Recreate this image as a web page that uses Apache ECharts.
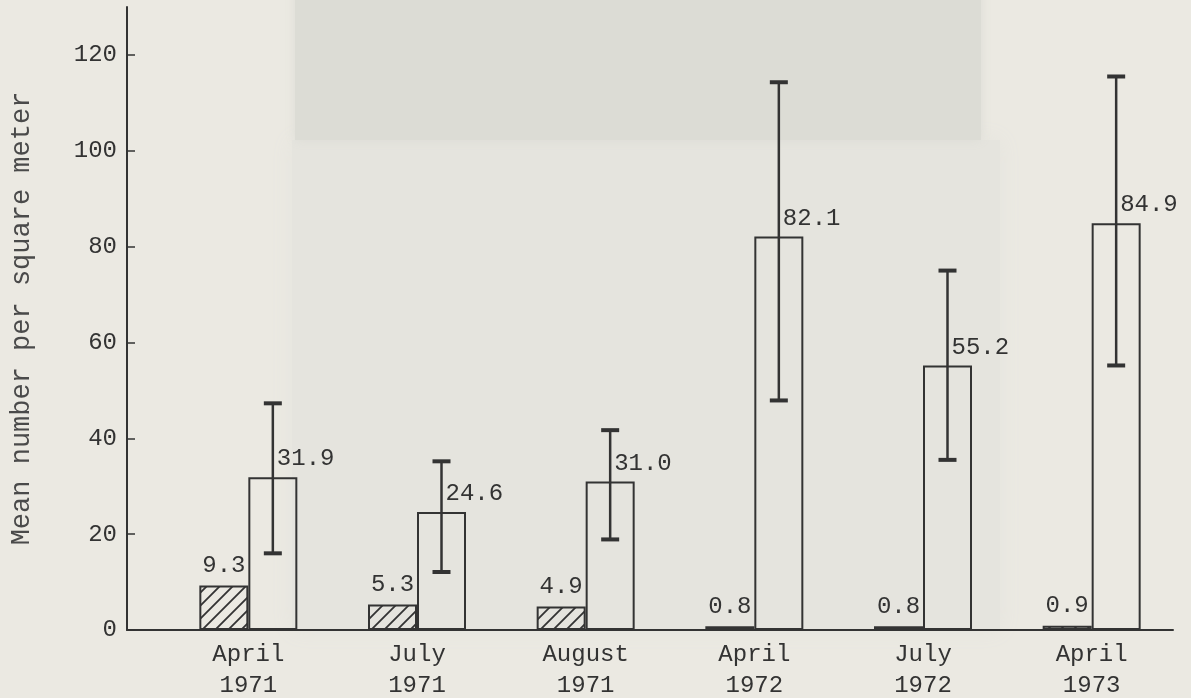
<!DOCTYPE html>
<html>
<head>
<meta charset="utf-8">
<script src="https://cdn.jsdelivr.net/npm/echarts@6/dist/echarts.min.js"></script>
<style>
html,body{margin:0;padding:0;background:#ebe9e2;}
#chart{width:1191px;height:698px;}
</style>
</head>
<body>
<div id="chart"></div>
<script>
// ---- data ----
const categories = ['April\n1971', 'July\n1971', 'August\n1971', 'April\n1972', 'July\n1972', 'April\n1973'];
const hatchedValues = [9.3, 5.3, 4.9, 0.8, 0.8, 0.9];
const openValues = [31.9, 24.6, 31.0, 82.1, 55.2, 84.9];
const errLow = [16.0, 12.1, 18.9, 47.9, 35.5, 55.2];
const errHigh = [47.3, 35.2, 41.7, 114.3, 75.0, 115.5];
const yTicks = [0, 20, 40, 60, 80, 100, 120];
const yTitle = 'Mean number per square meter';

// ---- style ----
const FONT = '"Liberation Mono", "DejaVu Sans Mono", monospace';
const INK = '#333';
const BAR_W = 49;

function hatchPattern() {
  const s = 13;
  const c = document.createElement('canvas');
  c.width = s; c.height = s;
  const ctx = c.getContext('2d');
  ctx.strokeStyle = INK;
  ctx.lineWidth = 1.8;
  ctx.beginPath();
  ctx.moveTo(0, s); ctx.lineTo(s, 0);
  ctx.moveTo(-3, 3); ctx.lineTo(3, -3);
  ctx.moveTo(s - 3, s + 3); ctx.lineTo(s + 3, s - 3);
  ctx.stroke();
  return c;
}

const chart = echarts.init(document.getElementById('chart'), null, {renderer: 'canvas'});

const errData = categories.map((c, i) => [i, errLow[i], errHigh[i]]);

const option = {
  backgroundColor: '#ebe9e2',
  animation: false,
  graphic: [
    {type: 'rect', z: -10, silent: true, shape: {x: 292, y: 140, width: 708, height: 490},
     style: {fill: '#e5e4de', shadowBlur: 20, shadowColor: '#e5e4de'}},
    {type: 'rect', z: -9, silent: true, shape: {x: 295, y: -10, width: 686, height: 150},
     style: {fill: '#dcdcd5', shadowBlur: 10, shadowColor: '#dcdcd5'}}
  ],
  grid: [
    {left: 127, right: 18, top: 7, bottom: 68, outerBoundsMode: 'none', containLabel: false},
    {left: 164, right: 15, top: 7, bottom: 68, outerBoundsMode: 'none', containLabel: false}
  ],
  xAxis: [
    {type: 'value', gridIndex: 0, min: 0, max: 1,
     axisLine: {show: true, lineStyle: {color: INK, width: 2}},
     axisTick: {show: false}, axisLabel: {show: false}, splitLine: {show: false}},
    {type: 'category', gridIndex: 1, data: categories,
     axisLine: {show: false}, axisTick: {show: false}, splitLine: {show: false},
     axisLabel: {interval: 0, margin: 9, fontFamily: FONT, fontSize: 24, lineHeight: 31, color: INK}}
  ],
  yAxis: [
    {type: 'value', gridIndex: 0, min: 0, max: 130,
     name: yTitle, nameLocation: 'middle', nameGap: 92, nameRotate: 90,
     nameTextStyle: {fontFamily: FONT, fontSize: 27, color: '#4a4a4a'},
     axisLine: {show: true, lineStyle: {color: INK, width: 2}},
     axisTick: {show: true, inside: true, length: 8, customValues: yTicks, lineStyle: {color: INK, width: 1.5}},
     axisLabel: {customValues: yTicks, margin: 10, fontFamily: FONT, fontSize: 24, color: INK},
     splitLine: {show: false}},
    {type: 'value', gridIndex: 1, min: 0, max: 130, show: false, splitLine: {show: false}}
  ],
  series: [
    {type: 'bar', name: 'hatched', xAxisIndex: 1, yAxisIndex: 1, data: hatchedValues,
     barWidth: BAR_W, barGap: '0%',
     itemStyle: {color: {image: hatchPattern(), repeat: 'repeat'}, borderColor: INK, borderWidth: 2},
     label: {show: true, position: 'top', distance: 8, fontFamily: FONT, fontSize: 24, color: INK,
             formatter: p => p.value.toFixed(1)}},
    {type: 'bar', name: 'open', xAxisIndex: 1, yAxisIndex: 1, data: openValues,
     barWidth: BAR_W, barGap: '0%',
     itemStyle: {color: 'rgba(0,0,0,0)', borderColor: INK, borderWidth: 2},
     label: {show: true, position: 'top', distance: 6, align: 'left', offset: [4, 0],
             fontFamily: FONT, fontSize: 24, color: INK,
             formatter: p => p.value.toFixed(1)}},
    {type: 'custom', name: 'error', xAxisIndex: 1, yAxisIndex: 1, data: errData, z: 5,
     renderItem: function (params, api) {
       const lo = api.coord([api.value(0), api.value(1)]);
       const hi = api.coord([api.value(0), api.value(2)]);
       const x = lo[0] + BAR_W / 2;
       const cap = 9;
       return {
         type: 'group',
         children: [
           {type: 'line', shape: {x1: x, y1: hi[1], x2: x, y2: lo[1]}, style: {stroke: INK, lineWidth: 2.5}},
           {type: 'line', shape: {x1: x - cap, y1: hi[1], x2: x + cap, y2: hi[1]}, style: {stroke: INK, lineWidth: 4}},
           {type: 'line', shape: {x1: x - cap, y1: lo[1], x2: x + cap, y2: lo[1]}, style: {stroke: INK, lineWidth: 4}}
         ]
       };
     }}
  ]
};
chart.setOption(option);
</script>
</body>
</html>
